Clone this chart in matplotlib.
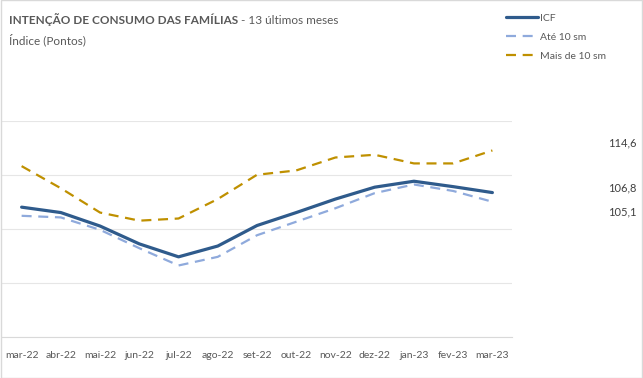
import matplotlib
matplotlib.use("Agg")
import matplotlib.pyplot as plt
from matplotlib.patches import Rectangle

months = ["mar-22", "abr-22", "mai-22", "jun-22", "jul-22", "ago-22", "set-22",
          "out-22", "nov-22", "dez-22", "jan-23", "fev-23", "mar-23"]
icf = [104.1, 103.1, 100.6, 97.3, 94.9, 96.9, 100.7, 103.1, 105.6, 107.8, 108.9, 107.9, 106.8]
ate10 = [102.5, 102.2, 99.9, 96.5, 93.3, 94.9, 98.9, 101.4, 103.9, 106.7, 108.3, 107.1, 105.1]
mais10 = [111.7, 107.6, 103.1, 101.6, 102.0, 105.6, 110.1, 110.9, 113.3, 113.8, 112.2, 112.2, 114.6]
series_names = ["ICF", "Até 10 sm", "Mais de 10 sm"]
end_labels = ["106,8", "105,1", "114,6"]

FONT = "Lato"
TXT = "#595959"

fig = plt.figure(figsize=(6.43, 3.78), dpi=100)
fig.patch.set_facecolor("white")
fig.add_artist(Rectangle((0.0008, 0.0013), 0.9984, 0.9974, transform=fig.transFigure,
                         fill=False, edgecolor="#D9D9D9", linewidth=1.0))

ax = fig.add_axes([2/643, 1 - 337.3/378, 510/643, (337.3 - 121.3)/378])
x = list(range(len(months)))
l1, = ax.plot(x, icf, color="#2F5B8C", lw=2.3, solid_capstyle="round", zorder=4)
l2, = ax.plot(x, ate10, color="#8FAADC", lw=1.6, dashes=(4.5, 3), zorder=3)
l3, = ax.plot(x, mais10, color="#BF9000", lw=1.6, dashes=(4.5, 3), zorder=3)

ax.set_xlim(-0.5, len(months) - 0.5)
ax.set_ylim(80, 120)
ax.set_yticks([80, 90, 100, 110, 120])
ax.yaxis.grid(True, color="#E6E6E6", lw=0.8)
ax.set_axisbelow(True)
ax.tick_params(axis="y", left=False, labelleft=False)
ax.tick_params(axis="x", length=0, pad=10, labelsize=7.5, labelcolor=TXT)
ax.set_xticks(x)
ax.set_xticklabels(months, fontfamily=FONT)
for s in ["top", "left", "right"]:
    ax.spines[s].set_visible(False)
ax.spines["bottom"].set_color("#D9D9D9")
ax.spines["bottom"].set_linewidth(0.8)

def ftext(px, py, s, **kw):
    return fig.text(px / 643, 1 - py / 378, s, **kw)

# end labels (values of last points)
for lab, py in zip(end_labels, [187.7, 211.7, 143.3]):
    ftext(608, py, lab, fontsize=8, color="#404040", fontfamily=FONT, va="center", ha="left")

# Title
t1 = ftext(9, 20, "INTENÇÃO DE CONSUMO DAS FAMÍLIAS", fontsize=8.5,
           fontweight="bold", color=TXT, fontfamily=FONT, va="center", ha="left")
fig.canvas.draw()
bb = t1.get_window_extent()
fig.text(bb.x1 / 643, 1 - 20 / 378, " - 13 últimos meses", fontsize=8.5, color=TXT,
         fontfamily=FONT, va="center", ha="left")
ftext(9, 39.5, "Índice (Pontos)", fontsize=8.5, color=TXT, fontfamily=FONT, va="center", ha="left")

# Legend
leg = fig.legend([l1, l2, l3], series_names, loc="upper left",
                 bbox_to_anchor=(497 / 643, 1 - 4 / 378), frameon=False,
                 prop={"family": FONT, "size": 7.5}, labelcolor=TXT,
                 handlelength=3.0, handletextpad=0.2, labelspacing=0.95)

fig.savefig("out.png", dpi=100, facecolor="white")
